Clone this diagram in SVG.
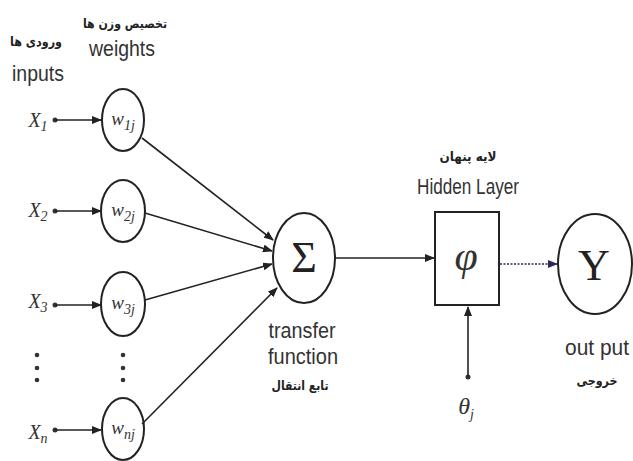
<svg xmlns="http://www.w3.org/2000/svg" width="633" height="461" viewBox="0 0 633 461">
<style>
.lbl{font-family:"Liberation Sans",Arial,sans-serif;font-size:22px;fill:#333;text-anchor:middle}
.fa{font-family:"DejaVu Sans","Noto Sans",sans-serif;font-size:13px;font-weight:bold;fill:#222;text-anchor:middle;direction:rtl}
.m{font-family:"Liberation Serif","Times New Roman",serif;font-style:italic;fill:#333;text-anchor:middle}
.node{fill:#fff;stroke:#222;stroke-width:2}
.edge{stroke:#222;stroke-width:1.6;fill:none}
.dot{fill:#333}
</style>
<defs>
<marker id="ah" markerWidth="10" markerHeight="8" refX="9" refY="4" orient="auto" markerUnits="userSpaceOnUse">
<path d="M0,0 L10,4 L0,8 Z" fill="#222"/>
</marker>
<marker id="ahb" markerWidth="10" markerHeight="8" refX="9" refY="4" orient="auto" markerUnits="userSpaceOnUse">
<path d="M0,0 L10,4 L0,8 Z" fill="#2a2a55"/>
</marker>
</defs>

<g id="headers">
<text class="fa" x="36" y="46" textLength="52" lengthAdjust="spacingAndGlyphs">ورودی ها</text>
<text class="lbl" x="38" y="81" textLength="52" lengthAdjust="spacingAndGlyphs">inputs</text>
<text class="fa" x="125" y="28" textLength="84" lengthAdjust="spacingAndGlyphs">تخصیص وزن ها</text>
<text class="lbl" x="122" y="56" textLength="66" lengthAdjust="spacingAndGlyphs">weights</text>
</g>

<g id="x1"><text class="m" x="38" y="127" font-size="20">X<tspan font-size="14" dy="4">1</tspan></text></g>
<g id="x2"><text class="m" x="38" y="217" font-size="20">X<tspan font-size="14" dy="4">2</tspan></text></g>
<g id="x3"><text class="m" x="38" y="308" font-size="20">X<tspan font-size="14" dy="4">3</tspan></text></g>
<g id="xn"><text class="m" x="38" y="439" font-size="20">X<tspan font-size="14" dy="4">n</tspan></text></g>

<g id="w1j"><ellipse class="node" cx="123" cy="120" rx="21" ry="31"/><text class="m" x="123" y="125" font-size="19">w<tspan font-size="14" dy="5">1j</tspan></text></g>
<g id="w2j"><ellipse class="node" cx="123" cy="211" rx="22" ry="31"/><text class="m" x="123" y="216" font-size="19">w<tspan font-size="14" dy="5">2j</tspan></text></g>
<g id="w3j"><ellipse class="node" cx="123" cy="304" rx="22" ry="32"/><text class="m" x="123" y="309" font-size="19">w<tspan font-size="14" dy="5">3j</tspan></text></g>
<g id="wnj"><ellipse class="node" cx="123" cy="429" rx="21" ry="31"/><text class="m" x="123" y="434" font-size="19">w<tspan font-size="14" dy="5">nj</tspan></text></g>

<g id="dots">
<circle class="dot" cx="37" cy="355" r="2.3"/><circle class="dot" cx="37" cy="368" r="2.3"/><circle class="dot" cx="37" cy="380" r="2.3"/>
<circle class="dot" cx="123" cy="355" r="2.3"/><circle class="dot" cx="123" cy="368" r="2.3"/><circle class="dot" cx="123" cy="380" r="2.3"/>
</g>

<g id="sum"><ellipse class="node" cx="304" cy="258" rx="31" ry="45"/><text x="304" y="272" font-family="Liberation Serif,serif" font-size="44" text-anchor="middle" fill="#222">Σ</text>
<text class="lbl" x="302" y="338" textLength="67" lengthAdjust="spacingAndGlyphs">transfer</text>
<text class="lbl" x="303" y="364" textLength="70" lengthAdjust="spacingAndGlyphs">function</text>
<text class="fa" x="300" y="390" textLength="57" lengthAdjust="spacingAndGlyphs">تابع انتقال</text>
</g>

<g id="hidden"><rect class="node" x="435" y="212" width="64" height="93"/>
<text class="m" x="466" y="270" font-size="42">φ</text>
<text class="fa" x="468" y="161" textLength="57" lengthAdjust="spacingAndGlyphs">لایه پنهان</text>
<text class="lbl" x="468" y="194" textLength="102" lengthAdjust="spacingAndGlyphs">Hidden Layer</text>
</g>

<g id="output"><ellipse class="node" cx="595" cy="264" rx="37" ry="50"/>
<text x="594" y="280" font-family="Liberation Serif,serif" font-size="44" text-anchor="middle" fill="#222">Y</text>
<text class="lbl" x="597" y="355" textLength="64" lengthAdjust="spacingAndGlyphs">out put</text>
<text class="fa" x="597" y="385" textLength="41" lengthAdjust="spacingAndGlyphs">خروجی</text>
</g>

<g id="theta"><text class="m" x="466" y="414" font-size="24">θ<tspan font-size="14" dy="5">j</tspan></text></g>

<g id="connectors">
<circle class="dot" cx="55" cy="120" r="2.5"/><line class="edge" x1="55" y1="120" x2="101" y2="120" marker-end="url(#ah)"/>
<circle class="dot" cx="55" cy="211" r="2.5"/><line class="edge" x1="55" y1="211" x2="101" y2="211" marker-end="url(#ah)"/>
<circle class="dot" cx="55" cy="305" r="2.5"/><line class="edge" x1="55" y1="305" x2="101" y2="305" marker-end="url(#ah)"/>
<circle class="dot" cx="55" cy="430" r="2.5"/><line class="edge" x1="55" y1="430" x2="101" y2="430" marker-end="url(#ah)"/>
<line class="edge" x1="142" y1="138" x2="273" y2="240" marker-end="url(#ah)"/>
<line class="edge" x1="145" y1="213" x2="272" y2="251" marker-end="url(#ah)"/>
<line class="edge" x1="145" y1="300" x2="272" y2="264" marker-end="url(#ah)"/>
<line class="edge" x1="142" y1="424" x2="277" y2="288" marker-end="url(#ah)"/>
<line class="edge" x1="335" y1="258" x2="434" y2="258" marker-end="url(#ah)"/>
<line x1="500" y1="264" x2="557" y2="264" stroke="#2a2a55" stroke-width="1.4" stroke-dasharray="2,1.5" marker-end="url(#ahb)"/>
<circle class="dot" cx="468" cy="377" r="2.5"/><line class="edge" x1="468" y1="377" x2="468" y2="307" marker-end="url(#ah)"/>
</g>
</svg>
